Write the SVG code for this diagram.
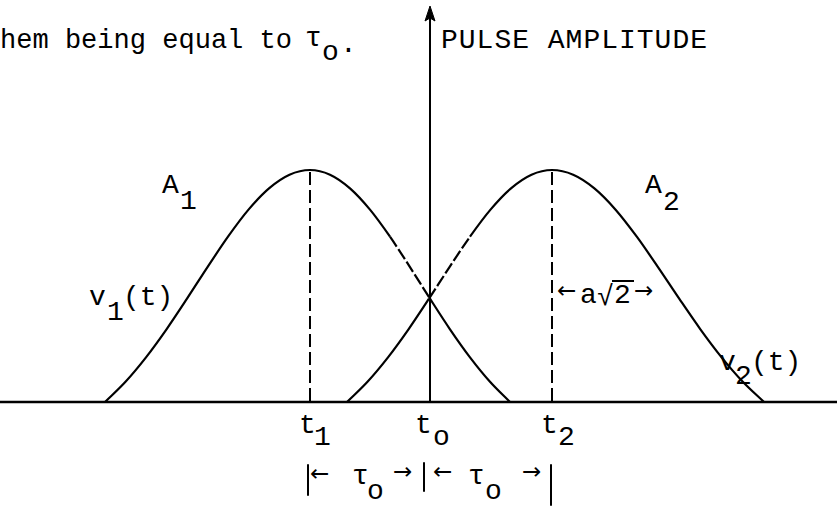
<svg xmlns="http://www.w3.org/2000/svg" width="837" height="508" viewBox="0 0 837 508">
<style>
.t{font-family:"Liberation Mono","DejaVu Sans Mono",monospace;font-size:28px;fill:#000}
.ar{font-family:"DejaVu Sans","Liberation Sans",sans-serif;font-size:23px;fill:#000}
.ln{stroke:#000;stroke-width:2;fill:none;stroke-linecap:round}
.cv{stroke:#000;stroke-width:2.2;fill:none;stroke-linejoin:round}
.dcv{stroke:#000;stroke-width:2.2;fill:none;stroke-dasharray:12 3}
.dash{stroke:#000;stroke-width:2;fill:none;stroke-dasharray:13 5}
</style>
<rect width="837" height="508" fill="#fff"/>
<g id="heading">
<text class="t" x="0" y="48" textLength="292" lengthAdjust="spacingAndGlyphs">hem being equal to</text>
<text class="t" x="305" y="46">τ</text>
<text class="t" x="322" y="60">o</text>
<text class="t" x="340" y="52">.</text>
<text class="t" x="441" y="48" textLength="266" lengthAdjust="spacing">PULSE AMPLITUDE</text>
</g>
<g id="axes">
<line class="ln" x1="0" y1="402" x2="837" y2="402" style="stroke-width:2.6"/>
<line class="ln" x1="430" y1="14" x2="430" y2="402"/>
<path d="M430,6 L425,21 L430,18 L435,21 Z" fill="#000" stroke="#000" stroke-width="1"/>
</g>
<g id="connectors">
<line class="dash" x1="310" y1="172" x2="310" y2="402"/>
<line class="dash" x1="552" y1="172" x2="552" y2="402"/>
<line class="ln" x1="308" y1="465" x2="308" y2="495"/>
<line class="ln" x1="424" y1="463" x2="424" y2="491"/>
<line class="ln" x1="551" y1="465" x2="551" y2="505"/>
</g>
<g id="pulse1">
<path class="cv" d="M105,402 C111.83,395.25 118.67,389.17 125.5,381.72 C132.33,374.28 139.17,366.06 146,357.32 C152.83,348.57 159.67,339.06 166.5,329.29 C173.33,319.52 180.17,309.04 187,298.67 C193.83,288.3 200.67,277.46 207.5,267.14 C214.33,256.81 221.17,246.26 228,236.68 C234.83,227.1 241.67,217.7 248.5,209.65 C255.33,201.6 262.17,194.2 269,188.37 C275.83,182.55 282.67,177.77 289.5,174.71 C296.33,171.65 303.17,170 310,170 C316.67,170 323.33,171.65 330,174.71 C336.67,177.77 343.33,182.55 350,188.37 C356.67,194.2 363.33,201.6 370,209.65 C376.67,217.7 383.33,227.1 390,236.68"/>
<path class="dcv" d="M390,236.68 C396.67,246.26 403.33,256.81 410,267.14 C416.67,277.46 423.33,288.3 430,298.67"/>
<path class="cv" d="M430,298.67 C436.67,309.04 443.33,319.52 450,329.29 C456.67,339.06 463.33,348.57 470,357.32 C476.67,366.06 483.33,374.28 490,381.72 C496.67,389.17 503.33,395.25 510,402"/>
</g>
<g id="pulse2">
<path class="cv" d="M347,402 C353.83,395.25 360.67,389.17 367.5,381.72 C374.33,374.28 381.17,366.06 388,357.32 C394.83,348.57 401.67,339.06 408.5,329.29 C415.33,319.52 422.17,309.04 429,298.67"/>
<path class="dcv" d="M429,298.67 C435.83,288.3 442.67,277.46 449.5,267.14 C456.33,256.81 463.17,246.26 470,236.68"/>
<path class="cv" d="M470,236.68 C476.83,227.1 483.67,217.7 490.5,209.65 C497.33,201.6 504.17,194.2 511,188.37 C517.83,182.55 524.67,177.77 531.5,174.71 C538.33,171.65 545.17,170 552,170 C559.07,170 566.13,171.65 573.2,174.71 C580.27,177.77 587.33,182.55 594.4,188.37 C601.47,194.2 608.53,201.6 615.6,209.65 C622.67,217.7 629.73,227.1 636.8,236.68 C643.87,246.26 650.93,256.81 658,267.14 C665.07,277.46 672.13,288.3 679.2,298.67 C686.27,309.04 693.33,319.52 700.4,329.29 C707.47,339.06 714.53,348.57 721.6,357.32 C728.67,366.06 735.73,374.28 742.8,381.72 C749.87,389.17 756.93,395.25 764,402"/>
</g>
<g id="label-A1"><text class="t" x="162" y="193">A</text><text class="t" x="180" y="209">1</text></g>
<g id="label-A2"><text class="t" x="645" y="193">A</text><text class="t" x="663" y="210">2</text></g>
<g id="label-v1"><text class="t" x="89" y="305">v</text><text class="t" x="107" y="320">1</text><text class="t" x="123" y="305">(t)</text></g>
<g id="label-v2"><text class="t" x="719" y="370">v</text><text class="t" x="735" y="384">2</text><text class="t" x="751" y="370">(t)</text></g>
<g id="label-width">
<text class="ar" x="557" y="298">←</text>
<text class="t" x="580" y="303">a</text>
<text class="t" x="597" y="305">√</text>
<line x1="612" y1="281" x2="634" y2="281" stroke="#000" stroke-width="2"/>
<text class="t" x="614" y="303">2</text>
<text class="ar" x="634" y="298">→</text>
</g>
<g id="label-t1"><text class="t" x="299" y="433">t</text><text class="t" x="314" y="445">1</text></g>
<g id="label-t0"><text class="t" x="415" y="433">t</text><text class="t" x="433" y="445">o</text></g>
<g id="label-t2"><text class="t" x="541" y="433">t</text><text class="t" x="558" y="445">2</text></g>
<g id="label-tau">
<text class="ar" x="310" y="481">←</text>
<text class="t" x="352" y="484">τ</text>
<text class="t" x="367" y="499">o</text>
<text class="ar" x="393" y="479">→</text>
<text class="ar" x="433" y="479">←</text>
<text class="t" x="468" y="484">τ</text>
<text class="t" x="485" y="499">o</text>
<text class="ar" x="522" y="479">→</text>
</g>
</svg>
